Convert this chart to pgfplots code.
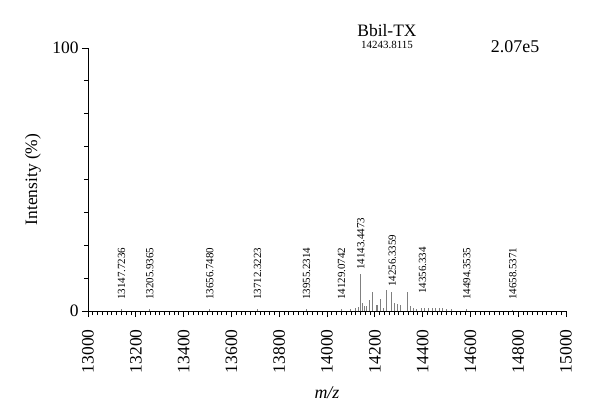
\documentclass[border=0pt]{standalone}
\usepackage{fontspec}
\setmainfont{Liberation Serif}
\usepackage{pgfplots}
\pgfplotsset{compat=1.18}

\pgfplotstableread{
mz     int
13141  0.8
13259  0.8
13510  0.6
13710  0.6
13915  0.6
14061  0.8
14100  0.6
14120  1.0
14133  1.5
14141  14.0
14148  2.9
14156  1.9
14164  1.9
14179  4.2
14191  7.4
14206  2.3
14213  2.2
14223  4.6
14238  1.2
14250  8.0
14271  7.2
14282  3.2
14293  2.8
14307  2.3
14338  7.2
14349  1.9
14360  1.3
14375  0.6
14395  1.0
14410  1.2
14425  1.0
14440  1.0
14455  1.3
14470  1.0
14485  1.0
14500  0.8
14520  0.6
14585  0.6
14777  0.5
}\spectrum

\begin{document}
\begin{tikzpicture}
\begin{axis}[
    at={(0,0)}, anchor=south west,
    scale only axis,
    width=478bp, height=263bp,
    xmin=13000, xmax=15000,
    ymin=0, ymax=100,
    clip=false,
    axis x line*=bottom, axis y line*=left,
    axis line style={-, line width=0.8bp},
    xtick distance=200, minor x tick num=9,
    scaled x ticks=false,
    ytick={0,100}, minor y tick num=7,
    tick align=outside,
    major tick length=6bp, minor tick length=4bp,
    tick style={black, line width=0.8bp},
    /pgf/number format/1000 sep={},
    /pgf/number format/assume math mode=true,
    ticklabel style={font=\fontsize{17.5}{20}\selectfont},
    xticklabel style={rotate=90, anchor=east, xshift=-9bp},
    xlabel={\textit{m/z}},
    xlabel style={at={(axis description cs:0.5,-0.312)}, anchor=center,
                  font=\fontsize{18}{20}\selectfont},
    ylabel={Intensity (\%)},
    ylabel style={at={(axis description cs:-0.115,0.5)}, anchor=center,
                  font=\fontsize{17.5}{20}\selectfont},
]
\addplot[ycomb, color=gray, line width=1bp, mark=none] table[x=mz, y=int] {\spectrum};

\begin{scope}[every node/.style={rotate=90, anchor=west, inner sep=0pt,
                                 font=\fontsize{11}{13}\selectfont}]
\node at (axis cs:13141,4.2) {13147.7236};
\node at (axis cs:13259,4.2) {13205.9365};
\node at (axis cs:13510,4.2) {13656.7480};
\node at (axis cs:13710,4.2) {13712.3223};
\node at (axis cs:13915,4.2) {13955.2314};
\node at (axis cs:14061,4.2) {14129.0742};
\node at (axis cs:14141,15.6) {14143.4473};
\node at (axis cs:14273,9.1) {14256.3359};
\node at (axis cs:14400,6.5) {14356.334};
\node at (axis cs:14585,4.2) {14494.3535};
\node at (axis cs:14777,4.2) {14658.5371};
\end{scope}

\node[font=\fontsize{17.5}{20}\selectfont] at (axis cs:14251,106.8) {Bbil-TX};
\node[font=\fontsize{11}{13}\selectfont] at (axis cs:14251,101.1) {14243.8115};
\node[font=\fontsize{18}{20}\selectfont] at (axis cs:14787,100.4) {2.07e5};
\end{axis}
\path (-88bp,-108bp) rectangle (512bp,311bp);
\end{tikzpicture}
\end{document}
